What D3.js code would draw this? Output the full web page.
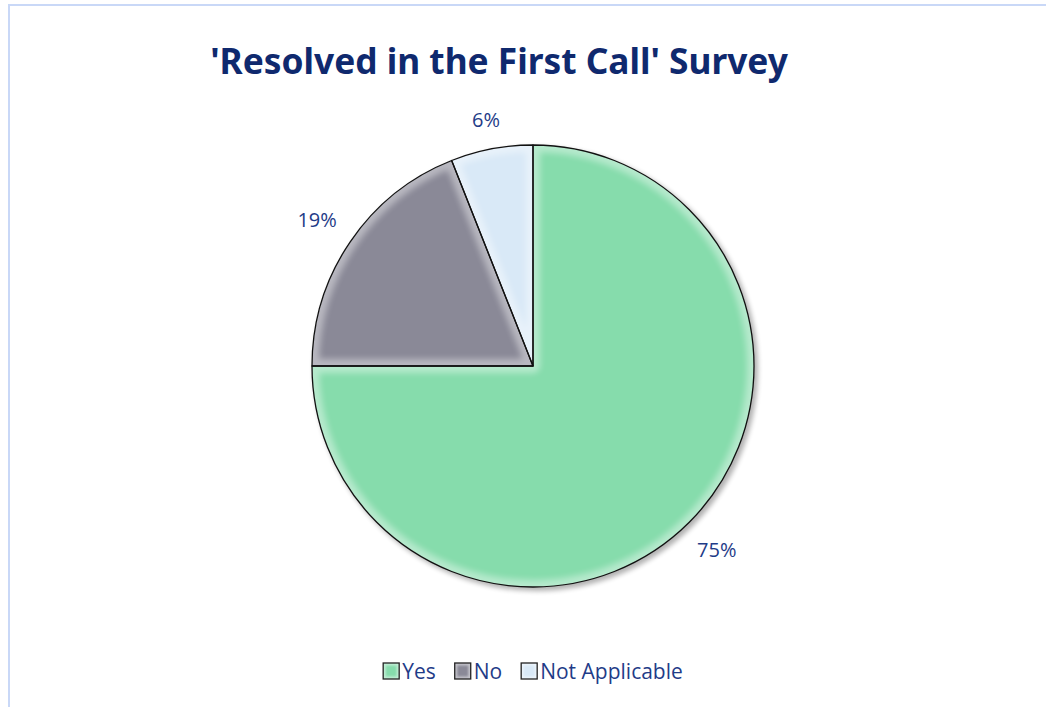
<!DOCTYPE html>
<html>
<head>
<meta charset="utf-8">
<script src="https://cdn.jsdelivr.net/npm/d3@7/dist/d3.min.js"></script>
<style>
  html, body { margin: 0; padding: 0; background: #fff; }
  svg { display: block; }
</style>
</head>
<body>
<svg id="chart" width="1046" height="707"></svg>
<script>
// Survey answers and their shares (percent)
const categories = ["Yes", "No", "Not Applicable"];
const shares = [75, 19, 6];
const colors = ["#86dcac", "#8a8997", "#d9e9f7"];
const chartTitle = "'Resolved in the First Call' Survey";

const W = 1046, H = 707;
const cx = 533, cy = 366, R = 221;
const textColor = "#1f3c88";
const titleColor = "#0f296e";

const svg = d3.select("#chart");
const defs = svg.append("defs");

// Soft blur used for the inner edge glow and the pie shadow
defs.append("filter").attr("id", "glow")
  .attr("x", "-20%").attr("y", "-20%").attr("width", "140%").attr("height", "140%")
  .attr("color-interpolation-filters", "sRGB")
  .append("feGaussianBlur").attr("stdDeviation", 3);
defs.append("filter").attr("id", "glowSmall")
  .attr("x", "-20%").attr("y", "-20%").attr("width", "140%").attr("height", "140%")
  .attr("color-interpolation-filters", "sRGB")
  .append("feGaussianBlur").attr("stdDeviation", 1.2);
defs.append("filter").attr("id", "shadow")
  .attr("x", "-20%").attr("y", "-20%").attr("width", "140%").attr("height", "140%")
  .append("feGaussianBlur").attr("stdDeviation", 2.5);

// Chart area frame
svg.append("path")
  .attr("d", `M9,${H} V5 H${W}`)
  .attr("fill", "none").attr("stroke", "#c9d8f7").attr("stroke-width", 2);

// Title, fitted to its width
const title = svg.append("text")
  .attr("x", 499).attr("y", 74)
  .attr("text-anchor", "middle")
  .attr("font-family", "'Noto Sans', sans-serif")
  .attr("font-weight", "bold")
  .attr("font-size", 36)
  .attr("fill", titleColor)
  .text(chartTitle);
const tw = title.node().getComputedTextLength();
title.attr("font-size", Math.min(40, 36 * 578 / tw));

const pie = d3.pie().sort(null).value(d => d.value);
const arcs = pie(categories.map((c, i) => ({ name: c, value: shares[i], color: colors[i] })));
const arc = d3.arc().innerRadius(0).outerRadius(R);

const g = svg.append("g").attr("transform", `translate(${cx},${cy})`);

g.append("circle")
  .attr("cx", 3).attr("cy", 3).attr("r", R + 1)
  .attr("fill", "#000").attr("opacity", 0.3)
  .attr("filter", "url(#shadow)");

// Each slice: flat fill plus a soft light band along its edges
arcs.forEach((d, i) => {
  defs.append("clipPath").attr("id", "slice-clip-" + i)
    .append("path").attr("d", arc(d));
  const s = g.append("g").attr("clip-path", `url(#slice-clip-${i})`);
  s.append("path").attr("d", arc(d)).attr("fill", d.data.color);
  s.append("path").attr("d", arc(d))
    .attr("fill", "none")
    .attr("stroke", "#fff")
    .attr("stroke-width", 14)
    .attr("stroke-linejoin", "round")
    .attr("opacity", 0.4)
    .attr("filter", "url(#glow)");
});

g.selectAll("path.edge")
  .data(arcs)
  .join("path")
  .attr("class", "edge")
  .attr("d", arc)
  .attr("fill", "none")
  .attr("stroke", "#111")
  .attr("stroke-width", 1.3)
  .attr("stroke-linejoin", "round");

// Percentage labels just outside the rim
const labelFont = "'Open Sans', 'Noto Sans', sans-serif";
g.selectAll("text.pct")
  .data(arcs)
  .join("text")
  .attr("class", "pct")
  .attr("text-anchor", "middle")
  .attr("dominant-baseline", "central")
  .attr("font-family", labelFont)
  .attr("font-size", 20)
  .attr("fill", textColor)
  .text(d => Math.round(d.data.value) + "%")
  .each(function (d) {
    const a = (d.startAngle + d.endAngle) / 2;
    const dx = Math.sin(a), dy = -Math.cos(a);
    const w = this.getComputedTextLength();
    const h = 17;
    const r = R + 19 + Math.abs(dx) * w / 2 + Math.abs(dy) * h / 2;
    d3.select(this).attr("x", dx * r).attr("y", dy * r);
  });

// Legend, centred under the pie
const legend = svg.append("g");
const box = 16, gapBox = 3, gapItem = 19, legY = 671;
const items = legend.selectAll("g.item")
  .data(arcs)
  .join("g")
  .attr("class", "item");
items.each(function (d, i) {
  const it = d3.select(this);
  defs.append("clipPath").attr("id", "key-clip-" + i)
    .append("rect").attr("width", box).attr("height", box).attr("y", legY - box / 2);
  const k = it.append("g").attr("clip-path", `url(#key-clip-${i})`);
  k.append("rect").attr("width", box).attr("height", box).attr("y", legY - box / 2)
    .attr("fill", d.data.color);
  k.append("rect").attr("width", box).attr("height", box).attr("y", legY - box / 2)
    .attr("fill", "none").attr("stroke", "#fff").attr("stroke-width", 5)
    .attr("opacity", 0.5).attr("filter", "url(#glowSmall)");
});
items.append("rect")
  .attr("width", box).attr("height", box)
  .attr("y", legY - box / 2)
  .attr("fill", "none")
  .attr("stroke", "#222").attr("stroke-width", 1.3);
items.append("text")
  .attr("x", box + gapBox)
  .attr("y", legY)
  .attr("dominant-baseline", "central")
  .attr("font-family", labelFont)
  .attr("font-size", 21)
  .attr("fill", textColor)
  .text(d => d.data.name);
const widths = [];
items.each(function () {
  widths.push(box + gapBox + d3.select(this).select("text").node().getComputedTextLength());
});
const total = d3.sum(widths) + gapItem * (widths.length - 1);
let x = cx - total / 2;
items.each(function (d, i) {
  d3.select(this).attr("transform", `translate(${x},0)`);
  x += widths[i] + gapItem;
});
</script>
</body>
</html>
